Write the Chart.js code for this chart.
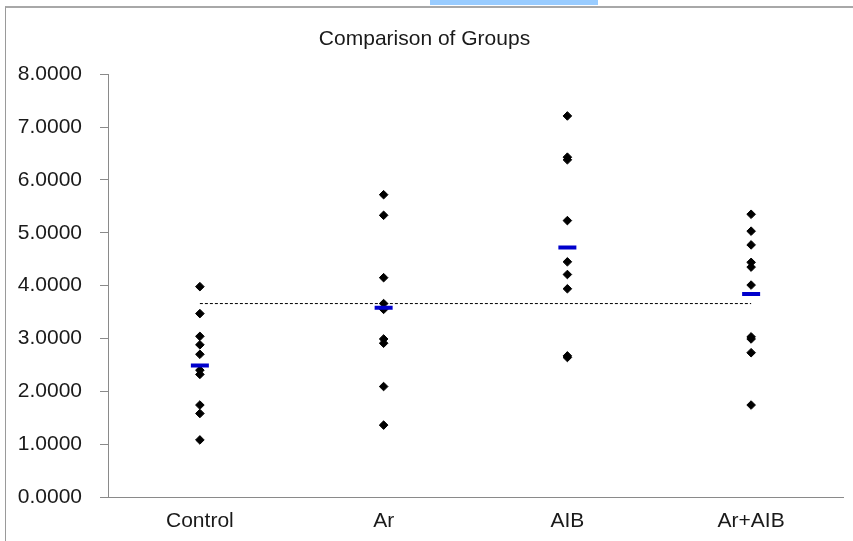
<!DOCTYPE html>
<html>
<head>
<meta charset="utf-8">
<script src="https://cdn.jsdelivr.net/npm/chart.js@4/dist/chart.umd.min.js"></script>
<style>
  body { margin: 0; background: #fff; overflow: hidden; width: 853px; height: 541px; }
  #highlight { position: absolute; left: 430px; top: 0; width: 168px; height: 5px; background: #99ccff; }
  #frame { position: absolute; left: 5px; top: 6px; width: 900px; height: 600px;
           border-left: 1px solid #9a9a9a; border-top: 2px solid #a8a8a8; }
  #chart { position: absolute; left: 6px; top: 8px; }
</style>
</head>
<body>
<div id="highlight"></div>
<div id="frame"></div>
<canvas id="chart" width="856" height="533"></canvas>
<script>
  const groups = ['Control', 'Ar', 'AIB', 'Ar+AIB'];

  const controlValues = [3.98, 3.47, 3.04, 2.88, 2.70, 2.40, 2.32, 1.74, 1.58, 1.08];
  const arValues = [5.72, 5.33, 4.15, 3.66, 3.55, 2.99, 2.91, 2.09, 1.36];
  const aibValues = [7.21, 6.43, 6.38, 5.23, 4.45, 4.21, 3.94, 2.67, 2.64];
  const arAibValues = [5.35, 5.03, 4.77, 4.44, 4.35, 4.01, 3.03, 2.99, 2.73, 1.74];

  const groupMeans = [2.49, 3.58, 4.72, 3.84];
  const grandMean = 3.66;

  const yTicks = [0, 1, 2, 3, 4, 5, 6, 7, 8];

  function toPoints(values, group) {
    return values.map(v => ({ x: group, y: v }));
  }

  const allPoints = [
    ...toPoints(controlValues, groups[0]),
    ...toPoints(arValues, groups[1]),
    ...toPoints(aibValues, groups[2]),
    ...toPoints(arAibValues, groups[3])
  ];

  const meanPoints = groupMeans.map((m, i) => ({ x: groups[i], y: m }));
  const grandLine = [
    { x: groups[0], y: grandMean },
    { x: groups[groups.length - 1], y: grandMean }
  ];

  const axisColor = '#8a8a8a';
  const fontFamily = '"Liberation Sans", Arial, sans-serif';

  new Chart(document.getElementById('chart'), {
    type: 'scatter',
    data: {
      datasets: [
        {
          label: 'Mean',
          data: meanPoints,
          pointStyle: 'line',
          pointRadius: 9,
          pointBorderWidth: 4,
          borderColor: '#0000cc',
          backgroundColor: '#0000cc'
        },
        {
          label: 'Values',
          data: allPoints,
          pointStyle: 'rectRot',
          pointRadius: 4.3,
          pointBorderWidth: 1,
          borderColor: '#000',
          backgroundColor: '#000'
        },
        {
          label: 'Grand mean',
          data: grandLine,
          showLine: true,
          borderColor: '#000',
          borderWidth: 1,
          borderDash: [3, 2],
          pointRadius: 0
        }
      ]
    },
    options: {
      responsive: false,
      animation: false,
      layout: { padding: { left: 0, right: 19, top: 0, bottom: 0 } },
      plugins: {
        legend: { display: false },
        tooltip: { enabled: false },
        title: {
          display: true,
          text: 'Comparison of Groups',
          color: '#1a1a1a',
          font: { family: fontFamily, size: 21, weight: 'normal' },
          padding: { top: 19, bottom: 22 }
        }
      },
      scales: {
        x: {
          type: 'category',
          labels: groups,
          offset: true,
          grid: { display: false, drawTicks: false },
          border: { display: true, color: axisColor, width: 1 },
          ticks: {
            color: '#1a1a1a',
            padding: 12,
            font: { family: fontFamily, size: 21 }
          },
          afterFit: function(scale) { scale.height = 44; }
        },
        y: {
          min: 0,
          max: 8,
          afterBuildTicks: function(scale) {
            scale.ticks = yTicks.map(v => ({ value: v }));
          },
          grid: {
            display: true,
            drawOnChartArea: false,
            drawTicks: true,
            tickLength: 8,
            color: axisColor
          },
          border: { display: true, color: axisColor, width: 1 },
          ticks: {
            color: '#1a1a1a',
            padding: 18,
            font: { family: fontFamily, size: 21 },
            callback: function(value) { return Number(value).toFixed(4); }
          },
          afterFit: function(scale) { scale.width = 102; }
        }
      }
    }
  });
</script>
</body>
</html>
